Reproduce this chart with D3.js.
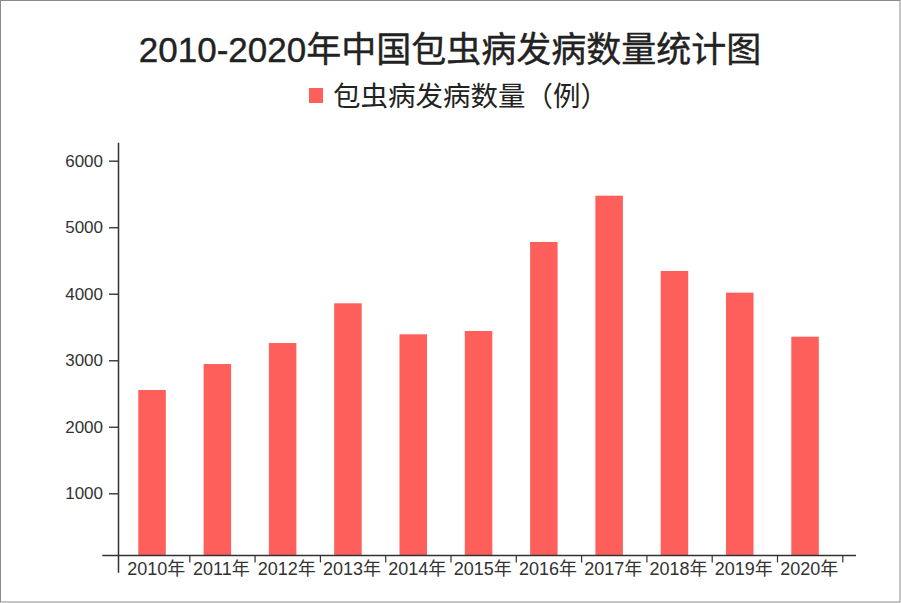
<!DOCTYPE html>
<html><head><meta charset="utf-8">
<script src="https://cdn.jsdelivr.net/npm/d3@7"></script>
<style>body{margin:0;background:#fff} svg{display:block}</style>
</head><body><svg id="c" width="901" height="603"></svg>
<script>
const years = ["2010年","2011年","2012年","2013年","2014年","2015年","2016年","2017年","2018年","2019年","2020年"];
const cases = [2553, 2943, 3259, 3856, 3390, 3440, 4778, 5474, 4342, 4016, 3354];
const yTicks = [1000, 2000, 3000, 4000, 5000, 6000];
const titleText = "2010-2020年中国包虫病发病数量统计图";
const seriesName = "包虫病发病数量（例）";

const FONT = "'Liberation Sans','Noto Sans CJK SC',sans-serif";
const barColor = "#fe5f5b";
const svg = d3.select("#c");

svg.append("rect").attr("x",0.5).attr("y",0.5).attr("width",899.5).attr("height",601.5)
  .attr("fill","#fff").attr("stroke","#8a8a8a").attr("stroke-width",1);

const y = d3.scaleLinear().domain([0, 6000]).range([559.8, 160.7]);
const x = d3.scaleBand().domain(years).range([124.5, 124.5 + 65.3 * years.length]);
const axisY = 555.5;
const barW = 27.5, barInset = 13.8;

// bars
svg.append("g").selectAll("rect").data(cases).join("rect")
  .attr("x", (d,i) => x(years[i]) + barInset)
  .attr("width", barW)
  .attr("y", d => y(d))
  .attr("height", d => axisY - y(d))
  .attr("fill", barColor);

// y axis
const gy = svg.append("g").attr("transform","translate(118.5,0)")
  .call(d3.axisLeft(y).tickValues(yTicks).tickSize(9.5).tickPadding(6).tickFormat(d3.format("d")));
gy.select(".domain").remove();
gy.selectAll(".tick line").attr("stroke","#444").attr("stroke-width",1.5);
gy.selectAll(".tick text").attr("font-family",FONT).attr("font-size",17).attr("fill","#333");
svg.append("line").attr("x1",118.5).attr("x2",118.5).attr("y1",142.7).attr("y2",572.7)
  .attr("stroke","#333").attr("stroke-width",1.5);

// x axis
svg.append("line").attr("x1",102.3).attr("x2",856).attr("y1",axisY).attr("y2",axisY)
  .attr("stroke","#333").attr("stroke-width",1.5);
const boundaries = years.slice(1).map(d => x(d)).concat([x.range()[1]]);
svg.append("g").selectAll("line").data(boundaries).join("line")
  .attr("x1", d => d).attr("x2", d => d).attr("y1", axisY).attr("y2", axisY + 7)
  .attr("stroke","#333").attr("stroke-width",1.2);
svg.append("g").selectAll("text").data(years).join("text")
  .attr("x", d => x(d) + x.bandwidth()/2 - 1)
  .attr("y", 575)
  .attr("text-anchor","middle")
  .attr("font-family",FONT).attr("font-size",18).attr("fill","#333")
  .text(d => d);

// title
svg.append("text").attr("x",450).attr("y",62).attr("text-anchor","middle")
  .attr("font-family",FONT).attr("font-size",35).attr("fill","#222")
  .attr("stroke","#222").attr("stroke-width",0.4)
  .text(titleText);

// legend
svg.append("rect").attr("x",309).attr("y",88).attr("width",14).attr("height",15).attr("fill",barColor);
svg.append("text").attr("x",333).attr("y",106)
  .attr("font-family",FONT).attr("font-size",27.5).attr("fill","#222")
  .text(seriesName);
</script></body></html>
